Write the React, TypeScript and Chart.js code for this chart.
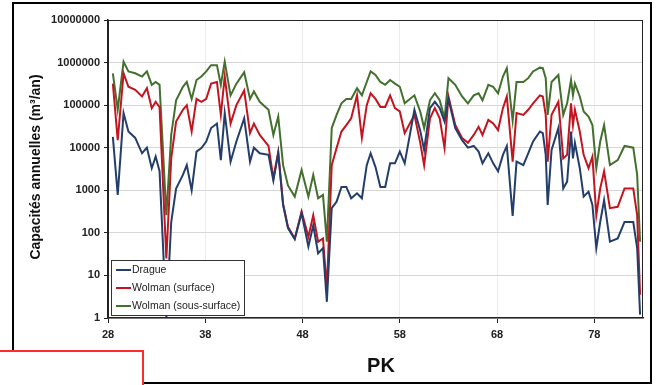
import React, { useEffect, useRef } from 'react';
import { Chart, registerables } from 'chart.js';

Chart.register(...registerables);

const pk = [
  28.5, 29.0, 29.6, 30.1, 30.8, 31.5, 32.0, 32.5, 32.9, 33.3,
  34.0, 34.5, 35.0, 35.7, 36.1, 36.6, 37.1, 37.6, 38.1, 38.6,
  39.2, 39.6, 40.0, 40.6, 41.2, 42.0, 42.6, 43.0, 43.6, 44.5,
  45.0, 45.5, 46.0, 46.5, 47.2, 47.9, 48.6, 49.1, 49.6, 50.1,
  50.5, 51.0, 51.5, 52.0, 52.5, 53.0, 53.6, 54.1, 54.6, 55.0,
  55.5, 56.0, 56.5, 57.0, 57.5, 58.0, 58.5, 59.5, 60.1, 60.5,
  61.1, 61.6, 62.1, 62.6, 63.0, 63.7, 64.4, 65.0, 65.6, 66.1,
  66.5, 67.1, 67.6, 68.1, 68.6, 69.0, 69.6, 70.0, 70.7, 71.2,
  71.7, 72.4, 72.7, 73.0, 73.2, 73.6, 74.3, 74.8, 75.2, 75.6,
  75.8, 76.0, 76.5, 76.9, 77.4, 77.8, 78.2, 78.6, 79.0, 79.6,
  80.4, 81.1, 82.0, 82.4, 82.7,
];

const drague = [
  18000, 780, 65000, 24000, 17000, 7400, 10000, 3300, 6200, 2800,
  1, 180, 1100, 2300, 3900, 1000, 8100, 9800, 14000, 29000,
  37000, 5100, 65000, 4700, 14000, 49000, 4700, 10000, 7400, 6800,
  1700, 7400, 450, 130, 71, 290, 48, 150, 33, 44,
  2.4, 380, 540, 1200, 1200, 650, 850, 650, 3900, 7400,
  3500, 1200, 1200, 4300, 4300, 8100, 4300, 78000, 25000, 8900,
  85000, 120000, 85000, 41000, 140000, 29000, 15000, 10000, 11000, 8100,
  4300, 7400, 4300, 2800, 6800, 11000, 250, 4700, 3900, 7400,
  14000, 24000, 22000, 6800, 450, 8900, 29000, 1100, 1600, 24000,
  5600, 13000, 3300, 710, 930, 450, 44, 180, 590, 62,
  74, 180, 180, 44, 1.2,
];

const wolmanSurface = [
  320000, 15000, 560000, 270000, 230000, 160000, 250000, 85000, 120000, 89000,
  25, 5600, 41000, 78000, 100000, 24000, 140000, 120000, 140000, 320000,
  350000, 59000, 470000, 37000, 100000, 220000, 22000, 37000, 20000, 11000,
  1900, 8000, 480, 140, 74, 320, 81, 260, 62, 74,
  5, 3900, 9800, 24000, 34000, 49000, 170000, 17000, 100000, 190000,
  140000, 91000, 91000, 170000, 85000, 71000, 22000, 59000, 13000, 3900,
  49000, 85000, 49000, 9800, 160000, 34000, 17000, 13000, 20000, 31000,
  20000, 45000, 37000, 26000, 85000, 160000, 4700, 65000, 59000, 78000,
  110000, 170000, 160000, 59000, 4700, 59000, 120000, 5600, 6800, 110000,
  34000, 78000, 24000, 6800, 3300, 6200, 260, 1100, 2800, 380,
  410, 1100, 1100, 260, 3.5,
];

const wolmanSousSurface = [
  560000, 78000, 1050000, 620000, 560000, 470000, 620000, 300000, 350000, 300000,
  260, 20000, 130000, 270000, 350000, 140000, 390000, 470000, 620000, 870000,
  870000, 300000, 1050000, 170000, 320000, 590000, 140000, 210000, 120000, 78000,
  20000, 54000, 3900, 1300, 710, 3000, 710, 2300, 650, 780,
  62, 29000, 59000, 110000, 140000, 140000, 250000, 170000, 350000, 620000,
  510000, 350000, 300000, 390000, 320000, 270000, 110000, 170000, 71000, 29000,
  130000, 190000, 130000, 49000, 430000, 300000, 160000, 110000, 170000, 190000,
  130000, 300000, 270000, 190000, 470000, 740000, 43000, 350000, 350000, 430000,
  620000, 760000, 740000, 430000, 59000, 350000, 510000, 59000, 110000, 390000,
  170000, 320000, 160000, 71000, 54000, 34000, 3300, 14000, 34000, 3900,
  5100, 11000, 10000, 2300, 62,
];

const seriesLabels = ['Drague', 'Wolman (surface)', 'Wolman (sous-surface)'];
const seriesColors = ['#243E6B', '#C3151F', '#43702E'];
const xTickValues = [28, 38, 48, 58, 68, 78];
const yTickValues = [1, 10, 100, 1000, 10000, 100000, 1000000, 10000000];
const xTitle = 'PK';
const yTitle = 'Capacités annuelles (m³/an)';

const FONT = '"Liberation Sans", Arial, sans-serif';

const decorPlugin = {
  id: 'decor',
  afterDatasetsDraw(chart: any) {
    const { ctx, chartArea: a } = chart;
    ctx.save();
    // plot border
    ctx.strokeStyle = '#222';
    ctx.lineWidth = 1;
    ctx.strokeRect(a.left + 0.5, a.top + 0.5, a.right - a.left - 1, a.bottom - a.top - 1);

    // legend
    const lx = 111, ly = 260, lw = 133, lh = 55;
    ctx.fillStyle = '#fff';
    ctx.fillRect(lx, ly, lw, lh);
    ctx.strokeStyle = '#333';
    ctx.strokeRect(lx + 0.5, ly + 0.5, lw, lh);
    const rows = [270, 288, 306];
    ctx.font = `10.5px ${FONT}`;
    ctx.textBaseline = 'middle';
    ctx.textAlign = 'left';
    seriesLabels.forEach((lab, i) => {
      ctx.strokeStyle = seriesColors[i];
      ctx.lineWidth = 2;
      ctx.beginPath();
      ctx.moveTo(116, rows[i]);
      ctx.lineTo(131, rows[i]);
      ctx.stroke();
      ctx.fillStyle = '#222';
      ctx.fillText(lab, 132, rows[i] + 0.5);
    });

    // axis titles
    ctx.fillStyle = '#111';
    ctx.font = `bold 20px ${FONT}`;
    ctx.textAlign = 'center';
    ctx.textBaseline = 'middle';
    ctx.fillText(xTitle, 381, 366);

    ctx.translate(36, 167);
    ctx.rotate(-Math.PI / 2);
    ctx.font = `bold 14px ${FONT}`;
    ctx.fillText(yTitle, 0, 0);
    ctx.restore();
  },
};

export default function App() {
  const ref = useRef<HTMLCanvasElement>(null);

  useEffect(() => {
    if (!ref.current) return;
    const series = [drague, wolmanSurface, wolmanSousSurface];
    const chart = new Chart(ref.current, {
      type: 'line',
      data: {
        datasets: series.map((vals, i) => ({
          label: seriesLabels[i],
          data: pk.map((x, j) => ({ x, y: vals[j] })),
          borderColor: seriesColors[i],
          backgroundColor: seriesColors[i],
          borderWidth: 2,
          pointRadius: 0,
          tension: 0,
          fill: false,
        })),
      },
      options: {
        responsive: false,
        animation: false,
        layout: { padding: { left: 20, top: 20, right: 13, bottom: 10 } },
        plugins: {
          legend: { display: false },
          tooltip: { enabled: false },
        },
        scales: {
          x: {
            type: 'linear',
            min: 28,
            max: 83,
            afterBuildTicks: (s: any) => {
              s.ticks = xTickValues.map((v) => ({ value: v }));
            },
            afterFit: (s: any) => {
              s.height = 57;
            },
            grid: { color: '#ececec', tickColor: '#222', tickLength: 5, drawTicks: true },
            border: { color: '#222', width: 1.5 },
            ticks: {
              autoSkip: false,
              maxRotation: 0,
              padding: 5,
              color: '#222',
              font: { family: FONT, size: 11, weight: 'bold' },
              callback: (v: any) => String(v),
            },
          },
          y: {
            type: 'logarithmic',
            min: 1,
            max: 10000000,
            afterBuildTicks: (s: any) => {
              s.ticks = yTickValues.map((v) => ({ value: v, major: true }));
            },
            afterFit: (s: any) => {
              s.width = 88;
            },
            grid: { color: '#d6d6d6', tickColor: '#222', tickLength: 4, drawTicks: true },
            border: { color: '#222', width: 1.5 },
            ticks: {
              autoSkip: false,
              padding: 4,
              color: '#222',
              font: { family: FONT, size: 11, weight: 'bold' },
              callback: (v: any) => String(v),
            },
          },
        },
      },
      plugins: [decorPlugin],
    } as any);
    return () => chart.destroy();
  }, []);

  return (
    <div>
      <canvas
        ref={ref}
        width={656}
        height={385}
        style={{ position: 'absolute', left: 0, top: 0, width: 656, height: 385, display: 'block' }}
      />
      <div
        style={{
          position: 'absolute',
          left: 12,
          top: 2,
          width: 640,
          height: 382,
          border: '2px solid #000',
          boxSizing: 'border-box',
          pointerEvents: 'none',
        }}
      />
      <div
        style={{
          position: 'absolute',
          left: 0,
          top: 350,
          width: 144,
          height: 35,
          borderTop: '2px solid #FF2A2A',
          borderRight: '2px solid #FF2A2A',
          background: '#fff',
          boxSizing: 'border-box',
          pointerEvents: 'none',
        }}
      />
    </div>
  );
}
